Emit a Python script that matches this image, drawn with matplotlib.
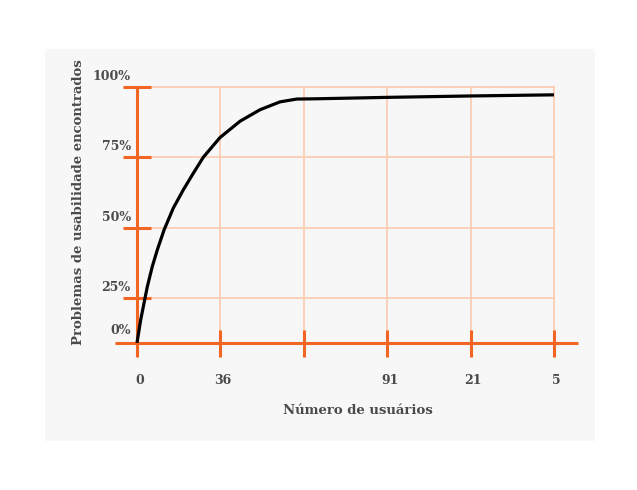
import matplotlib.pyplot as plt

# dados (x em posição de marca, y em %)
curva_x = [0.0, 0.044, 0.084, 0.124, 0.183, 0.243, 0.324, 0.435, 0.555, 0.675,
           0.795, 0.995, 1.235, 1.475, 1.715, 1.915, 2.155, 3.0, 4.0, 5.0]
curva_y = [9.0, 17.1, 23.1, 29.0, 36.1, 42.0, 49.1, 56.9, 63.4, 69.3,
           75.0, 82.0, 87.8, 91.9, 94.7, 95.7, 95.8, 96.3, 96.8, 97.2]

x_ticks = [0, 1, 2, 3, 4, 5]
x_labels = ['0', '36', '', '91', '21', '5']
y_ticks = [9, 25, 50, 75, 100]
y_labels = ['0%', '25%', '50%', '75%', '100%']

laranja = '#f26522'
grade = '#fbcbb0'
cinza = '#4a4a4a'
fonte = 'DejaVu Serif'

fig = plt.figure(figsize=(6.37, 4.9), dpi=100)
ax = fig.add_axes([45 / 637, 49 / 490, 550 / 637, 392 / 490])
ax.set_facecolor('#f7f7f7')
ax.set_xlim(-1.103, 5.492)
ax.set_ylim(-25.9, 113.5)
for s in ax.spines.values():
    s.set_visible(False)
ax.set_xticks([])
ax.set_yticks([])

# grade
for yv in y_ticks[1:]:
    ax.plot([0, 5], [yv, yv], color=grade, lw=1.2, zorder=1)
for xv in x_ticks[1:]:
    ax.plot([xv, xv], [y_ticks[0], 100], color=grade, lw=1.2, zorder=1)

# eixos
ax.plot([-0.264, 5.288], [y_ticks[0], y_ticks[0]], color=laranja, lw=2.2,
        solid_capstyle='butt', zorder=3)
ax.plot([0, 0], [4.0, 100], color=laranja, lw=2.2, solid_capstyle='butt', zorder=3)
for yv in y_ticks[1:]:
    ax.plot([-0.168, 0.168], [yv, yv], color=laranja, lw=2.2,
            solid_capstyle='butt', zorder=3)
for xv in x_ticks[1:]:
    ax.plot([xv, xv], [4.0, 13.6], color=laranja, lw=2.2,
            solid_capstyle='butt', zorder=3)

# curva
ax.plot(curva_x, curva_y, color='black', lw=2.3, zorder=4,
        solid_capstyle='butt', solid_joinstyle='round')

# rótulos
for yv, lab in zip(y_ticks, y_labels):
    off = 1.4 if yv != y_ticks[0] else 2.0
    ax.text(-0.075, yv + off, lab, ha='right', va='bottom', fontsize=9,
            fontweight='bold', color=cinza, family=fonte)
for xv, lab in zip(x_ticks, x_labels):
    ax.text(xv + 0.03, -4.5, lab, ha='center', va='center', fontsize=9,
            fontweight='bold', color=cinza, family=fonte)

ax.text(2.65, -15.0, 'Número de usuários', ha='center', va='center',
        fontsize=9.5, fontweight='bold', color=cinza, family=fonte)
ax.text(-0.705, 59.0, 'Problemas de usabilidade encontrados', ha='center',
        va='center', rotation=90, fontsize=9.5, fontweight='bold', color=cinza,
        family=fonte)

fig.savefig('out.png', dpi=100, facecolor='white')
